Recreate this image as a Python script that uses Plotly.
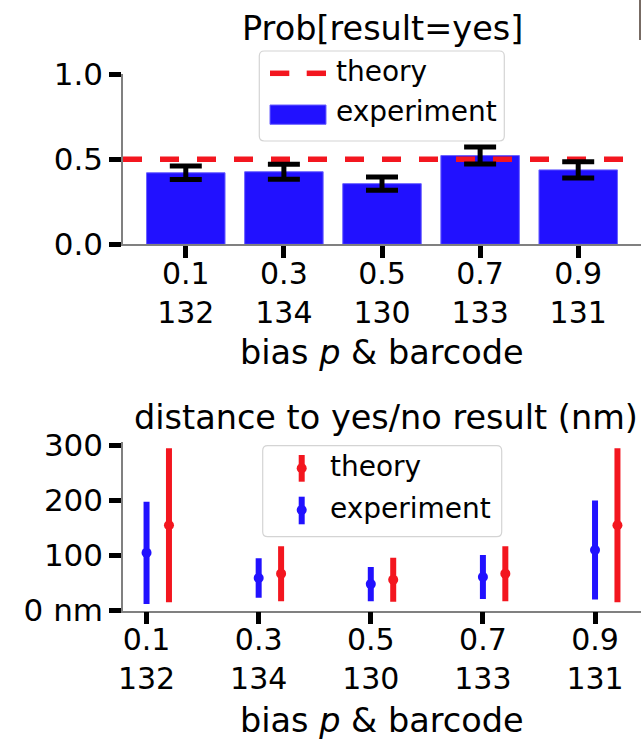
import plotly.graph_objects as go

W, H = 641, 739

# ---- data ----
bias = ["0.1", "0.3", "0.5", "0.7", "0.9"]
barcode = ["132", "134", "130", "133", "131"]

p_yes_exp = [0.420, 0.426, 0.356, 0.521, 0.437]
p_yes_err = [0.040, 0.044, 0.039, 0.050, 0.047]
p_yes_theory = 0.5

dist_exp = [105, 59, 48, 61, 110]
dist_exp_err = [93, 36, 31, 40, 90]
dist_theory = [155, 67, 56, 67, 155]
dist_theory_err = [140, 50, 40, 50, 140]

dist_tickvals = [0, 100, 200, 300]
dist_ticktext = ["0 nm", "100", "200", "300"]
prob_tickvals = [0.0, 0.5, 1.0]
prob_ticktext = ["0.0", "0.5", "1.0"]

# ---- style ----
FONT = "DejaVu Sans"
BLUE = "#2111ff"
RED = "#f3161f"
THEORY_OFFSET = 0.2
TOP_XRANGE = [-0.64, 4.64]
BOT_XRANGE = [-0.21, 4.41]

pos = list(range(len(bias)))
cat_labels = [f"{b}<br>{c}" for b, c in zip(bias, barcode)]


def px(x):
    return x / W


def py(y):
    return 1 - y / H


fig = go.Figure()

# top panel: probability of "yes"
fig.add_trace(go.Bar(
    x=pos, y=p_yes_exp, width=0.8,
    marker=dict(color=BLUE, line=dict(color="#6a60ff", width=1)),
    xaxis="x", yaxis="y", showlegend=False,
))
fig.add_trace(go.Scatter(
    x=TOP_XRANGE, y=[p_yes_theory, p_yes_theory], mode="lines",
    line=dict(color=RED, width=5.5, dash="19px,18px"),
    xaxis="x", yaxis="y", showlegend=False,
))
fig.add_trace(go.Scatter(
    x=pos, y=p_yes_exp, mode="markers",
    marker=dict(size=1, color="rgba(0,0,0,0)"),
    error_y=dict(type="data", array=p_yes_err, color="black",
                 thickness=5, width=16),
    xaxis="x", yaxis="y", showlegend=False,
))

# bottom panel: distance to yes/no result
fig.add_trace(go.Scatter(
    x=pos, y=dist_exp, mode="markers",
    marker=dict(size=10, color=BLUE),
    error_y=dict(type="data", array=dist_exp_err, color=BLUE,
                 thickness=6, width=0),
    xaxis="x2", yaxis="y2", showlegend=False,
))
fig.add_trace(go.Scatter(
    x=[p + THEORY_OFFSET for p in pos], y=dist_theory, mode="markers",
    marker=dict(size=10, color=RED),
    error_y=dict(type="data", array=dist_theory_err, color=RED,
                 thickness=6, width=0),
    xaxis="x2", yaxis="y2", showlegend=False,
))

axis_common = dict(
    showline=True, linecolor="#808080", linewidth=1.5,
    ticks="outside", ticklen=12, tickwidth=4.5, tickcolor="black",
    showgrid=False, zeroline=False, automargin=False,
)
x_axis_font = dict(family=FONT, size=30, color="black")
y_axis_font = dict(family=FONT, size=31, color="black")

fig.update_layout(
    template="none",
    width=W, height=H,
    margin=dict(l=0, r=0, t=0, b=0, pad=0, autoexpand=False),
    paper_bgcolor="white", plot_bgcolor="white",
    xaxis=dict(domain=[px(123), 1], range=TOP_XRANGE, anchor="y",
               tickvals=pos, ticktext=cat_labels, tickfont=x_axis_font,
               ticklabelstandoff=-10, **axis_common),
    yaxis=dict(domain=[py(244.3), py(74)], range=[0, 1.0], anchor="x",
               tickvals=prob_tickvals, ticktext=prob_ticktext,
               tickfont=y_axis_font, **axis_common),
    xaxis2=dict(domain=[px(123), 1], range=BOT_XRANGE, anchor="y2",
                tickvals=pos, ticktext=cat_labels, tickfont=x_axis_font,
                ticklabelstandoff=-10, **axis_common),
    yaxis2=dict(domain=[py(610.5), py(441.7)], range=[0, 307], anchor="x2",
                tickvals=dist_tickvals, ticktext=dist_ticktext,
                tickfont=y_axis_font, **axis_common),
)

title_font = dict(family=FONT, size=33.5, color="black")
legend_font = dict(family=FONT, size=28, color="black")
annotations = [
    dict(text="Prob[result=yes]", x=px(382), y=py(29), font=title_font),
    dict(text="distance to yes/no result (nm)", x=px(386), y=py(418), font=title_font),
    dict(text="bias <i>p</i> &amp; barcode", x=px(382), y=py(352), font=title_font),
    dict(text="bias <i>p</i> &amp; barcode", x=px(382), y=py(720), font=title_font),
]
for a in annotations:
    a.update(xref="paper", yref="paper", xanchor="center", yanchor="middle",
             showarrow=False, borderpad=0)


def rounded_box(x0, y0, x1, y1, r=5):
    rx, ry = r / W, r / H
    X0, X1, Y0, Y1 = px(x0), px(x1), py(y1), py(y0)
    return (f"M {X0 + rx},{Y0} L {X1 - rx},{Y0} Q {X1},{Y0} {X1},{Y0 + ry} "
            f"L {X1},{Y1 - ry} Q {X1},{Y1} {X1 - rx},{Y1} "
            f"L {X0 + rx},{Y1} Q {X0},{Y1} {X0},{Y1 - ry} "
            f"L {X0},{Y0 + ry} Q {X0},{Y0} {X0 + rx},{Y0} Z")


shapes = []
# top legend
shapes.append(dict(type="path", path=rounded_box(259.3, 51, 504.3, 141),
                   xref="paper", yref="paper",
                   fillcolor="rgba(255,255,255,0.8)",
                   line=dict(color="#d4d4d4", width=1.2), layer="above"))
for d0, d1 in [(270, 289.3), (306.7, 326)]:
    shapes.append(dict(type="line", xref="paper", yref="paper",
                       x0=px(d0), x1=px(d1), y0=py(73.3), y1=py(73.3),
                       line=dict(color=RED, width=5.5), layer="above"))
shapes.append(dict(type="rect", xref="paper", yref="paper",
                   x0=px(270), x1=px(326), y0=py(124.3), y1=py(105),
                   fillcolor=BLUE, line=dict(color="#6a60ff", width=1),
                   layer="above"))
annotations += [
    dict(text="theory", x=px(335), y=py(71)),
    dict(text="experiment", x=px(335), y=py(112)),
]

# bottom legend
shapes.append(dict(type="path", path=rounded_box(262.7, 445.7, 501.7, 536.7),
                   xref="paper", yref="paper",
                   fillcolor="rgba(255,255,255,0.8)",
                   line=dict(color="#d4d4d4", width=1.2), layer="above"))
for yc, ya, yb, col in [(468.3, 455, 481.7, RED), (510, 496.7, 524.3, BLUE)]:
    shapes.append(dict(type="line", xref="paper", yref="paper",
                       x0=px(301.7), x1=px(301.7), y0=py(ya), y1=py(yb),
                       line=dict(color=col, width=6), layer="above"))
    shapes.append(dict(type="circle", xref="paper", yref="paper",
                       x0=px(296.7), x1=px(306.7), y0=py(yc + 5), y1=py(yc - 5),
                       fillcolor=col, line=dict(width=0), layer="above"))
annotations += [
    dict(text="theory", x=px(329.3), y=py(466)),
    dict(text="experiment", x=px(329.3), y=py(508)),
]
for a in annotations[4:]:
    a.update(xref="paper", yref="paper", xanchor="left", yanchor="middle",
             showarrow=False, borderpad=0, font=legend_font)

# edge of the neighbouring panel at the top right
shapes.append(dict(type="line", xref="paper", yref="paper",
                   x0=px(640), x1=px(640), y0=py(0), y1=py(40),
                   line=dict(color="#4a3a30", width=1.5)))

fig.update_layout(annotations=annotations, shapes=shapes)

fig.write_html("out.html")
